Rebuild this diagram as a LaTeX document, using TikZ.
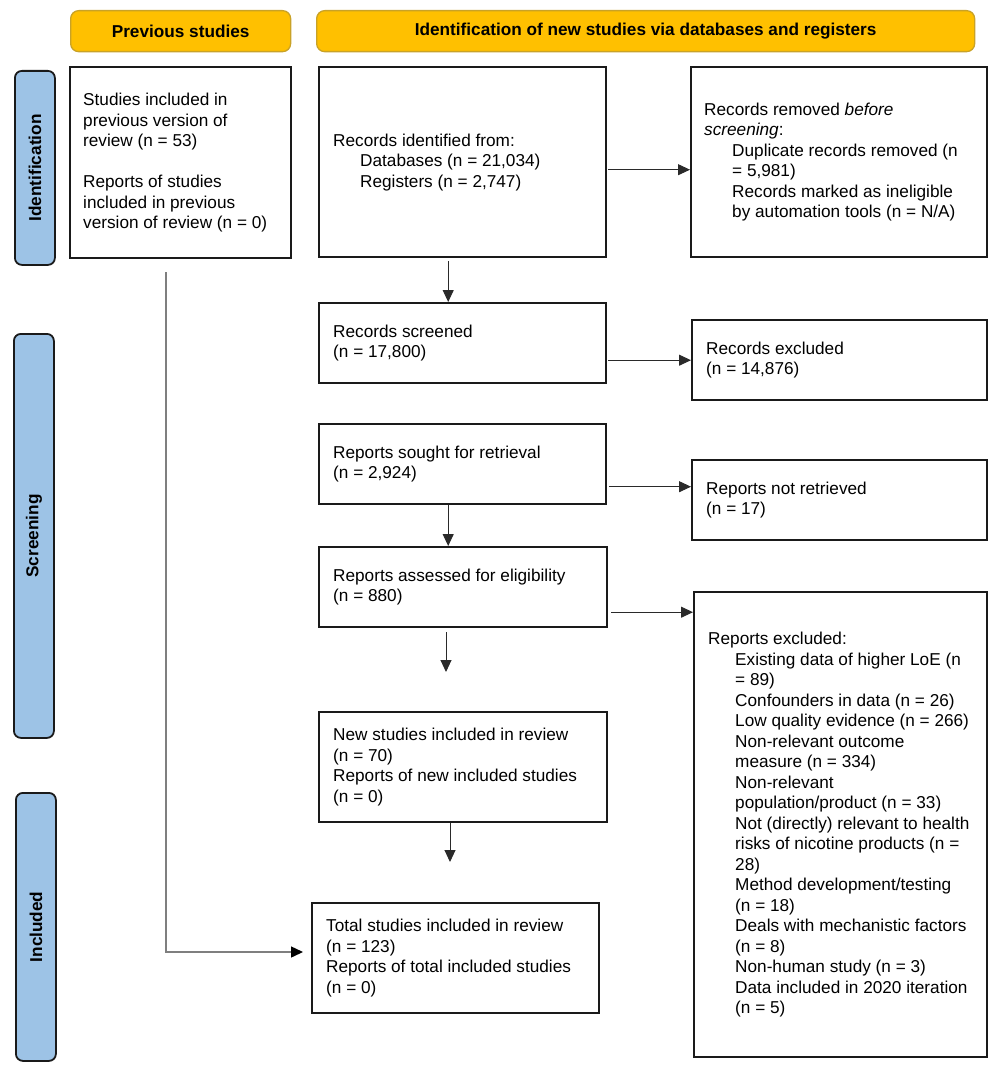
\documentclass[tikz,border=0pt]{standalone}
\usepackage{fontspec}
\setmainfont{Liberation Sans}
\usetikzlibrary{arrows.meta}
\definecolor{hdrfill}{HTML}{FFC000}
\definecolor{hdrline}{HTML}{C9A227}
\definecolor{sidefill}{HTML}{9DC3E6}
\definecolor{boxline}{HTML}{1A1A1A}
\definecolor{arrline}{HTML}{2A2A2A}
\definecolor{greyline}{HTML}{7F7F7F}
\newcommand{\ind}{\hspace*{27pt}}
\begin{document}
\begin{tikzpicture}[x=1pt,y=1pt,
  every node/.style={font=\fontsize{17.2}{20.5}\selectfont},
  hdr/.style={draw=hdrline, fill=hdrfill, line width=1.3pt, rounded corners=8pt, anchor=north west, font=\fontsize{17.2}{20.5}\selectfont\bfseries, inner sep=0pt},
  side/.style={draw=boxline, fill=sidefill, line width=1.8pt, rounded corners=7pt, anchor=north west, inner sep=0pt},
  sidetxt/.style={rotate=90, font=\fontsize{17.2}{20.5}\selectfont\bfseries, inner sep=0pt},
  box/.style={draw=boxline, line width=2.4pt, anchor=north west, inner sep=0pt},
  txt/.style={anchor=west, align=left, inner sep=0pt},
  arr/.style={draw=arrline, line width=1pt, -{Triangle[length=12pt,width=11pt]}},
  greyarr/.style={draw=greyline, line width=1.4pt, -{Triangle[length=12pt,width=11pt,color=black]}},
]
\useasboundingbox (0,0) rectangle (1000,-1073);

% headers
\node[hdr, minimum width=220pt, minimum height=41pt] (hprev) at (70,-10) {Previous studies};
\node[hdr, minimum width=658pt, minimum height=41pt] (hnew) at (316,-10) {Identification of new studies via databases and registers};

% side bars
\node[side, minimum width=40pt, minimum height=194pt] (sid) at (14,-70) {};
\node[sidetxt] (sidt) at (sid.center) {Identification};
\node[side, minimum width=40pt, minimum height=404pt] (sscr) at (13,-333) {};
\node[sidetxt] (sscrt) at (sscr.center) {Screening};
\node[side, minimum width=40pt, minimum height=268pt] (sinc) at (15,-792) {};
\node[sidetxt] (sinct) at (sinc.center) {Included};

% boxes
\node[box, minimum width=221pt, minimum height=191pt] (prev) at (69,-66) {};
\node[txt] (prevt) at ([xshift=14pt]prev.west) {Studies included in\\previous version of\\review (n = 53)\\[20.5pt]Reports of studies\\included in previous\\version of review (n = 0)};

\node[box, minimum width=287pt, minimum height=190pt] (ident) at (318,-66) {};
\node[txt] (identt) at ([xshift=15pt]ident.west) {Records identified from:\\\ind Databases (n = 21,034)\\\ind Registers (n = 2,747)};

\node[box, minimum width=296pt, minimum height=190pt] (removed) at (690,-66) {};
\node[txt] (removedt) at ([xshift=14pt]removed.west) {Records removed \textit{before}\\\textit{screening}:\\\hspace*{28pt}Duplicate records removed (n\\\hspace*{28pt}= 5,981)\\\hspace*{28pt}Records marked as ineligible\\\hspace*{28pt}by automation tools (n = N/A)};

\node[box, minimum width=287pt, minimum height=80pt] (screened) at (318,-302) {};
\node[txt] (screenedt) at ([xshift=15pt]screened.west) {Records screened\\(n = 17,800)};

\node[box, minimum width=295pt, minimum height=80pt] (excluded) at (691,-319) {};
\node[txt] (excludedt) at ([xshift=15pt]excluded.west) {Records excluded\\(n = 14,876)};

\node[box, minimum width=287pt, minimum height=80pt] (sought) at (318,-423) {};
\node[txt] (soughtt) at ([xshift=15pt]sought.west) {Reports sought for retrieval\\(n = 2,924)};

\node[box, minimum width=295pt, minimum height=80pt] (notret) at (691,-459) {};
\node[txt] (notrett) at ([xshift=15pt]notret.west) {Reports not retrieved\\(n = 17)};

\node[box, minimum width=288pt, minimum height=80pt] (assessed) at (318,-546) {};
\node[txt] (assessedt) at ([xshift=15pt]assessed.west) {Reports assessed for eligibility\\(n = 880)};

\node[box, minimum width=293pt, minimum height=465pt] (repexcl) at (693,-591) {};
\node[txt] (repexclt) at ([xshift=15pt]repexcl.west) {Reports excluded:\\
\ind Existing data of higher LoE (n\\
\ind = 89)\\
\ind Confounders in data (n = 26)\\
\ind Low quality evidence (n = 266)\\
\ind Non-relevant outcome\\
\ind measure (n = 334)\\
\ind Non-relevant\\
\ind population/product (n = 33)\\
\ind Not (directly) relevant to health\\
\ind risks of nicotine products (n =\\
\ind 28)\\
\ind Method development/testing\\
\ind (n = 18)\\
\ind Deals with mechanistic factors\\
\ind (n = 8)\\
\ind Non-human study (n = 3)\\
\ind Data included in 2020 iteration\\
\ind (n = 5)};

\node[box, minimum width=288pt, minimum height=110pt] (new) at (318,-711) {};
\node[txt] (newt) at ([xshift=15pt]new.west) {New studies included in review\\(n = 70)\\Reports of new included studies\\(n = 0)};

\node[box, minimum width=287pt, minimum height=110pt] (total) at (311,-902) {};
\node[txt] (totalt) at ([xshift=15pt]total.west) {Total studies included in review\\(n = 123)\\Reports of total included studies\\(n = 0)};

% free ends
\coordinate (c1) at (446,-672);
\coordinate (c2) at (450,-862);
\coordinate (c3) at (166,-272);
\coordinate (c4) at (303,-952);

% connectors
\draw[arr] ([xshift=1pt,yshift=-7.5pt]ident.east) -- ([yshift=-7.5pt]removed.west);
\draw[arr] ([xshift=1pt]screened.east |- excluded.west) -- (excluded.west);
\draw[arr] ([xshift=2pt,yshift=-22.5pt]sought.east) -- ([yshift=-22.5pt]sought.east -| notret.west);
\draw[arr] ([xshift=3pt,yshift=-25pt]assessed.east) -- ([yshift=-25pt]assessed.east -| repexcl.west);
\draw[arr] ([xshift=-14.5pt,yshift=-3pt]ident.south) -- ([xshift=-14.5pt]ident.south |- screened.north);
\draw[arr] ([xshift=-14.5pt]sought.south) -- ([xshift=-14.5pt]sought.south |- assessed.north);
\draw[arr] ([yshift=-4pt]assessed.south -| c1) -- (c1);
\draw[arr] (new.south -| c2) -- (c2);
\draw[greyarr] (c3) |- (c4);
\end{tikzpicture}
\end{document}
